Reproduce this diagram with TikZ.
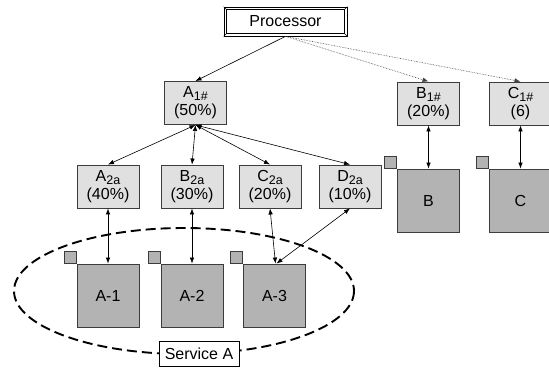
\documentclass[tikz,border=0pt]{standalone}
\usepackage{fontspec}
\setmainfont{Liberation Sans}
\usetikzlibrary{arrows.meta}
\definecolor{lightbox}{HTML}{E0E0E0}
\definecolor{darkbox}{HTML}{B3B3B3}
\definecolor{edgec}{HTML}{3C3C3C}
\newcommand{\mysub}[1]{\raisebox{-3pt}{\fontsize{12.5}{12.5}\selectfont #1}}
\tikzset{
  lbl/.style={draw=edgec, fill=lightbox, line width=0.9pt, minimum width=62pt, minimum height=43pt,
    inner sep=0pt, align=center, font=\fontsize{16}{18}\selectfont},
  sq/.style={draw=edgec, fill=darkbox, line width=0.9pt, minimum width=62pt, minimum height=63pt,
    inner sep=0pt, font=\fontsize{16}{18}\selectfont},
  tabsq/.style={draw=edgec, fill=darkbox, line width=0.9pt, minimum size=12pt, inner sep=0pt, anchor=south east},
  tip/.style={Latex[length=6pt,width=4.5pt]},
  link/.style={{Latex[length=6pt,width=4.5pt]}-{Latex[length=6pt,width=4.5pt]}, line width=0.6pt},
  oneway/.style={-{Latex[length=6pt,width=4.5pt]}, line width=0.6pt},
  dotlink/.style={-{Latex[length=6pt,width=4.5pt]}, line width=0.6pt, densely dotted, draw=black!75},
  svc/.style={dashed, line width=1.9pt, dash pattern=on 10pt off 5pt},
  plain/.style={draw=black, fill=white, line width=0.7pt, inner sep=0pt, font=\fontsize{16}{18}\selectfont},
}
\begin{document}
\begin{tikzpicture}[x=1pt,y=-1pt]
\useasboundingbox (0,0) rectangle (549,367);
% service ellipse
\draw[svc] (184,291) ellipse [x radius=170, y radius=63];
% processor
\node[plain, minimum width=123pt, minimum height=29pt] (proc) at (285.5,21.5) {Processor};
\draw[line width=0.7pt] ([shift={(3,3)}]proc.north west) rectangle ([shift={(-3,-3)}]proc.south east);
\draw[line width=0.5pt] (proc.north west) -- ++(3,3) (proc.north east) -- ++(-3,3)
  (proc.south west) -- ++(3,-3) (proc.south east) -- ++(-3,-3);
% first level
\node[lbl] (a1) at (195.5,103) {A\mysub{1\#}\\(50\%)};
\node[lbl] (b1) at (428.5,103.5) {B\mysub{1\#}\\(20\%)};
\node[lbl] (c1) at (520.5,103.5) {C\mysub{1\#}\\(6)};
% second level
\node[lbl] (a2) at (108,186.5) {A\mysub{2a}\\(40\%)};
\node[lbl] (b2) at (192,186.5) {B\mysub{2a}\\(30\%)};
\node[lbl] (c2) at (270,186.5) {C\mysub{2a}\\(20\%)};
\node[lbl] (d2) at (350,186.5) {D\mysub{2a}\\(10\%)};
% resources
\node[sq] (ra1) at (108,295.5) {A-1};
\node[sq] (ra2) at (192,295.5) {A-2};
\node[sq] (ra3) at (274.5,295.5) {A-3};
\node[sq] (rb) at (428.5,200.5) {B};
\node[sq] (rc) at (520.5,200.5) {C};
\node[tabsq] (ta1) at (ra1.north west) {};
\node[tabsq] (ta2) at (ra2.north west) {};
\node[tabsq] (ta3) at (ra3.north west) {};
\node[tabsq] (tb) at (rb.north west) {};
\node[tabsq] (tc) at (rc.north west) {};
% service label
\node[plain, minimum width=80pt, minimum height=25pt] (svcA) at (199,354) {Service A};
% connectors
\draw[oneway] (proc.south) -- (a1.north);
\draw[dotlink] (proc.south) -- (b1.north);
\draw[dotlink] (proc.south) -- (c1.north);
\draw[link] (a1.south) -- (a2.north);
\draw[link] (a1.south) -- (b2.north);
\draw[link] (a1.south) -- (c2.north);
\draw[link] (a1.south) -- (d2.north);
\draw[link] (b1.south) -- (rb.north);
\draw[link] (c1.south) -- (rc.north);
\draw[link] (a2.south) -- (ra1.north);
\draw[link] (b2.south) -- (ra2.north);
\draw[link] (c2.south) -- ([xshift=1pt]ra3.north);
\draw[link] (d2.south) -- ([xshift=2pt]ra3.north);
\end{tikzpicture}
\end{document}
